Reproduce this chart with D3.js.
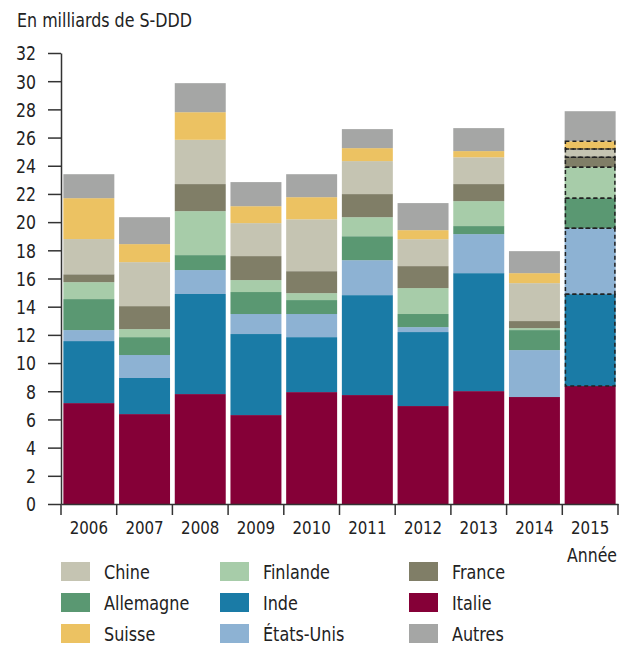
<!DOCTYPE html>
<html>
<head>
<meta charset="utf-8">
<script src="https://cdn.jsdelivr.net/npm/d3@7"></script>
<style>
  body { margin: 0; background: #fff; }
  svg text { font-family: "Liberation Sans Narrow", "DejaVu Sans Condensed", "Roboto", sans-serif; fill: #222; }
</style>
</head>
<body>
<div id="chart"></div>
<script>
// data (S-DDD, billions)
var years = ["2006", "2007", "2008", "2009", "2010", "2011", "2012", "2013", "2014", "2015"];
var countries = ["Italie", "Inde", "États-Unis", "Allemagne", "Finlande", "France", "Chine", "Suisse", "Autres"];
var colors = ["#850037", "#1a7ba6", "#8db2d3", "#5a9872", "#a7cca9", "#807e67", "#c5c4b2", "#ecc262", "#a5a6a5"];

var italie    = [7.16, 6.38, 7.80, 6.31, 7.94, 7.73, 6.95, 8.01, 7.59, 8.37];
var inde      = [4.40, 2.56, 7.10, 5.75, 3.90, 7.09, 5.25, 8.37, 0.00, 6.52];
var etatsUnis = [0.78, 1.63, 1.70, 1.42, 1.64, 2.48, 0.35, 2.77, 3.33, 4.68];
var allemagne = [2.20, 1.27, 1.06, 1.56, 0.99, 1.70, 0.93, 0.57, 1.42, 2.13];
var finlande  = [1.20, 0.57, 3.12, 0.85, 0.49, 1.35, 1.84, 1.77, 0.14, 2.20];
var france    = [0.56, 1.63, 1.92, 1.70, 1.56, 1.64, 1.56, 1.21, 0.50, 0.70];
var chine     = [2.50, 3.12, 3.14, 2.34, 3.68, 2.34, 1.91, 1.90, 2.69, 0.58];
var suisse    = [2.90, 1.28, 1.96, 1.20, 1.57, 0.92, 0.64, 0.44, 0.71, 0.56];
var autres    = [1.70, 1.91, 2.06, 1.71, 1.63, 1.35, 1.92, 1.63, 1.56, 2.13];

var seriesValues = [italie, inde, etatsUnis, allemagne, finlande, france, chine, suisse, autres];
var yTicks = d3.range(0, 33, 2);

// 2015 segments that are provisional (dashed outline)
var dashedYear = "2015";
var dashedSeries = ["Inde", "États-Unis", "Allemagne", "Finlande", "France", "Chine", "Suisse"];

// legend layout order (3 columns)
var legendOrder = ["Chine", "Finlande", "France", "Allemagne", "Inde", "Italie", "Suisse", "États-Unis", "Autres"];

var W = 628, H = 646;
var margin = { top: 53, right: 10, bottom: 142, left: 61 };

var svg = d3.select("#chart")
  .append("svg")
  .attr("width", W)
  .attr("height", H);

// squeeze text horizontally around its anchor, the font is a condensed one
function condense(sel, sx) {
  sel.attr("transform", function() {
    var ax = parseFloat(d3.select(this).attr("x")) || 0;
    return "translate(" + ax + ",0) scale(" + sx + ",1) translate(" + (-ax) + ",0)";
  });
}

// build table for stack
var table = years.map(function(y, i) {
  var row = { year: y };
  countries.forEach(function(c, j) { row[c] = seriesValues[j][i]; });
  return row;
});

var stacked = d3.stack().keys(countries)(table);

var x = d3.scaleBand()
  .domain(years)
  .range([margin.left, 618])
  .paddingInner(0.085)
  .paddingOuter(0.0425);

var y = d3.scaleLinear()
  .domain([0, 32])
  .range([504, margin.top]);

var color = d3.scaleOrdinal().domain(countries).range(colors);

// bars
var layers = svg.append("g")
  .selectAll("g")
  .data(stacked)
  .enter()
  .append("g")
  .attr("fill", function(d) { return color(d.key); });

layers.selectAll("rect")
  .data(function(d) { return d; })
  .enter()
  .append("rect")
  .attr("x", function(d) { return x(d.data.year); })
  .attr("y", function(d) { return y(d[1]); })
  .attr("width", x.bandwidth())
  .attr("height", function(d) { return y(d[0]) - y(d[1]); });

// dashed outlines for 2015
var dashed = [];
stacked.forEach(function(s) {
  if (dashedSeries.includes(s.key)) {
    s.forEach(function(v) { if (v.data.year === dashedYear) dashed.push(v); });
  }
});
svg.append("g")
  .selectAll("rect")
  .data(dashed)
  .enter()
  .append("rect")
  .attr("x", function(d) { return x(d.data.year) + 0.75; })
  .attr("y", function(d) { return y(d[1]); })
  .attr("width", x.bandwidth() - 1.5)
  .attr("height", function(d) { return y(d[0]) - y(d[1]); })
  .attr("fill", "none")
  .attr("stroke", "#222")
  .attr("stroke-width", 1.5)
  .attr("stroke-dasharray", "4,3");

// Y axis
var yAxis = svg.append("g")
  .attr("transform", "translate(" + margin.left + ",0)")
  .call(d3.axisLeft(y).tickValues(yTicks).tickSize(13).tickPadding(12).tickSizeOuter(0));
yAxis.selectAll("text").style("font-size", "19px").attr("dy", "0.36em");
condense(yAxis.selectAll("text"), 0.92);
yAxis.selectAll("line, path").attr("stroke", "#333").attr("stroke-width", 1.5);

// X axis
var xAxis = svg.append("g")
  .attr("transform", "translate(0," + y(0) + ")")
  .call(d3.axisBottom(x).tickSize(0).tickSizeOuter(0));
xAxis.selectAll("text").style("font-size", "18px").attr("y", 30).attr("dy", 0);
condense(xAxis.selectAll("text"), 0.93);
xAxis.select("path").attr("stroke", "#333").attr("stroke-width", 1.5);

// boundary ticks between bars
var gap = x.step() * x.paddingInner();
var bounds = years.map(function(d) { return x(d) - gap / 2; });
bounds.push(x(years[years.length - 1]) + x.bandwidth() + gap / 2);
xAxis.selectAll(".bound")
  .data(bounds)
  .enter()
  .append("line")
  .attr("class", "bound")
  .attr("x1", function(d) { return d; })
  .attr("x2", function(d) { return d; })
  .attr("y1", 0)
  .attr("y2", 11)
  .attr("stroke", "#333")
  .attr("stroke-width", 1.5);

// titles
var title = svg.append("text")
  .attr("x", 17)
  .attr("y", 27)
  .style("font-size", "19px")
  .text("En milliards de S-DDD");
condense(title, 0.93);

var annee = svg.append("text")
  .attr("x", 617)
  .attr("y", 562)
  .attr("text-anchor", "end")
  .style("font-size", "19px")
  .text("Année");
condense(annee, 0.92);

// legend
var legend = svg.append("g")
  .selectAll("g")
  .data(legendOrder)
  .enter()
  .append("g")
  .attr("transform", function(d, i) {
    var col = i % 3, row = Math.floor(i / 3);
    var cx = [61, 220, 409][col];
    return "translate(" + cx + "," + (562 + row * 31) + ")";
  });

legend.append("rect")
  .attr("width", 29)
  .attr("height", 19)
  .attr("fill", function(d) { return color(d); });

var legendText = legend.append("text")
  .attr("x", 43)
  .attr("y", 17)
  .style("font-size", "20px")
  .text(function(d) { return d; });
condense(legendText, 0.89);
</script>
</body>
</html>
